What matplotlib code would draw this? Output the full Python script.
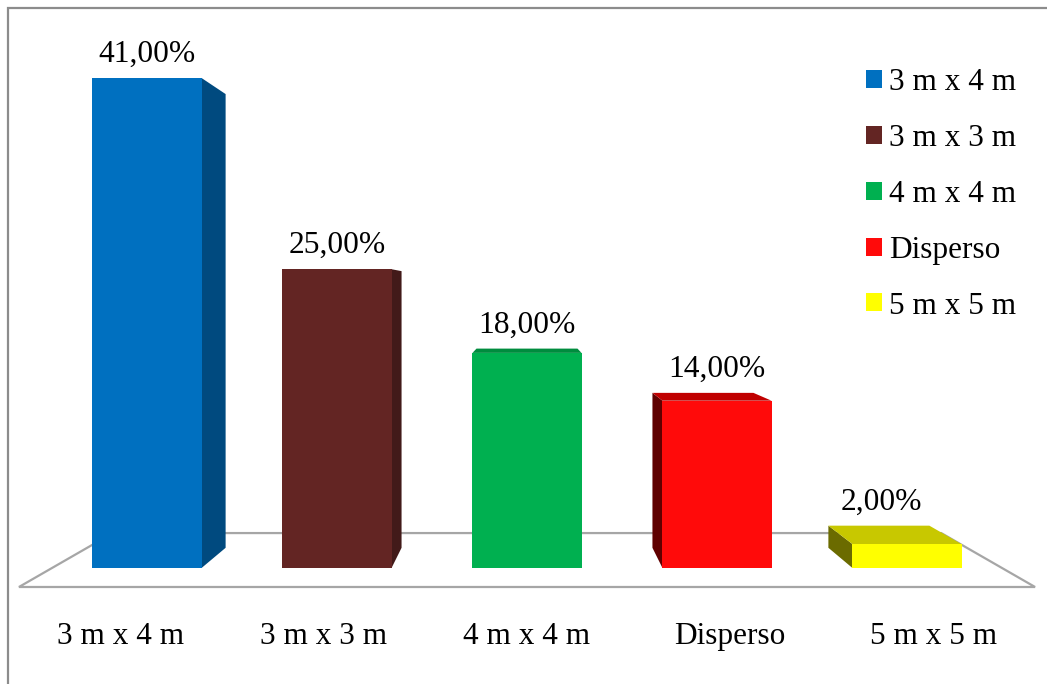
import matplotlib
matplotlib.use("Agg")
import matplotlib.pyplot as plt
from matplotlib.patches import Polygon, Patch, Rectangle

plt.rcParams['font.family'] = ['Liberation Serif', 'DejaVu Serif']

categories = ["3 m x 4 m", "3 m x 3 m", "4 m x 4 m", "Disperso", "5 m x 5 m"]
values = [41, 25, 18, 14, 2]
value_labels = ["41,00%", "25,00%", "18,00%", "14,00%", "2,00%"]

front_colors = ["#0070C0", "#632523", "#00B050", "#FF0A0A", "#FFFF00"]
side_colors = ["#004A7F", "#421A19", "#00783A", "#600000", "#6B6B00"]
top_colors = ["#005A9A", "#4F1E1C", "#008C3E", "#C00000", "#C8C800"]

# pixel anchors of the front plane (bar bottoms, one slot per category)
W, H = 1047, 684
x0_px, slot_px = 52, 190.0
y0_px, pct_px = 568, 11.951

# perspective: vanishing point (data units) and depth scales
vx, vy = 2.0, 22.84
bar_back = 0.926
floor_front, floor_back = 1.0696, 0.872
bar_w = 0.574

fig = plt.figure(figsize=(W / 100, H / 100), dpi=100)
ax = fig.add_axes([0, 0, 1, 1])
ax.set_xlim(-0.5 - x0_px / slot_px, -0.5 + (W - x0_px) / slot_px)
ax.set_ylim((y0_px - H) / pct_px, y0_px / pct_px)
ax.axis("off")


def proj(x, y, s):
    return (vx + (x - vx) * s, vy + (y - vy) * s)


# chart frame (only left and top edges fall inside the picture)
frame = Rectangle((8 / W, 1 - 8 / H - 2), 2, 2, transform=fig.transFigure,
                  fill=False, edgecolor="#8c8c8c", lw=1.6)
fig.patches.append(frame)

# floor
n = len(categories)
fl = [proj(-0.5, 0, floor_front), proj(n - 0.5, 0, floor_front),
      proj(n - 0.5, 0, floor_back), proj(-0.5, 0, floor_back)]
ax.add_patch(Polygon(fl, closed=True, facecolor="white", edgecolor="#a6a6a6",
                     lw=1.6, clip_on=False, zorder=1))

for i, (v, cf, cs, ct) in enumerate(zip(values, front_colors, side_colors, top_colors)):
    xl, xr = i - bar_w / 2, i + bar_w / 2
    zo = 2 + i
    if xr < vx:
        side = [(xr, 0), (xr, v), proj(xr, v, bar_back), proj(xr, 0, bar_back)]
        ax.add_patch(Polygon(side, closed=True, facecolor=cs, edgecolor="none", zorder=zo))
    elif xl > vx:
        side = [(xl, 0), (xl, v), proj(xl, v, bar_back), proj(xl, 0, bar_back)]
        ax.add_patch(Polygon(side, closed=True, facecolor=cs, edgecolor="none", zorder=zo))
    if v < vy:
        top = [(xl, v), (xr, v), proj(xr, v, bar_back), proj(xl, v, bar_back)]
        ax.add_patch(Polygon(top, closed=True, facecolor=ct, edgecolor="none", zorder=zo))
    ax.add_patch(Rectangle((xl, 0), bar_w, v, facecolor=cf, edgecolor="none", zorder=zo + 0.5))

# value labels
label_nudge_px = [0, 0, 0, 0, -26]
for i, (v, lab) in enumerate(zip(values, value_labels)):
    top_y = max(v, proj(i, v, bar_back)[1])
    ax.annotate(lab, (i, top_y), xytext=(label_nudge_px[i] * 0.72, 16 * 0.72),
                textcoords="offset points", ha="center", va="baseline",
                fontsize=22.7, color="black", zorder=20)

# category labels on the floor front edge
for i, cat in enumerate(categories):
    x, y = proj(i, 0, floor_front)
    ax.annotate(cat, (x, y), xytext=(0, -57 * 0.72), textcoords="offset points",
                ha="center", va="baseline", fontsize=22.5, color="black")

# legend
handles = [Patch(facecolor=c, edgecolor="none") for c in front_colors]
fig.legend(handles, categories, loc="upper left",
           bbox_to_anchor=(866 / W, 1 - 68 / H), frameon=False,
           fontsize=22.5, borderpad=0, borderaxespad=0,
           handlelength=0.51, handleheight=0.51, handletextpad=0.22,
           labelspacing=0.86)

fig.savefig("out.png", dpi=100, facecolor="white")
